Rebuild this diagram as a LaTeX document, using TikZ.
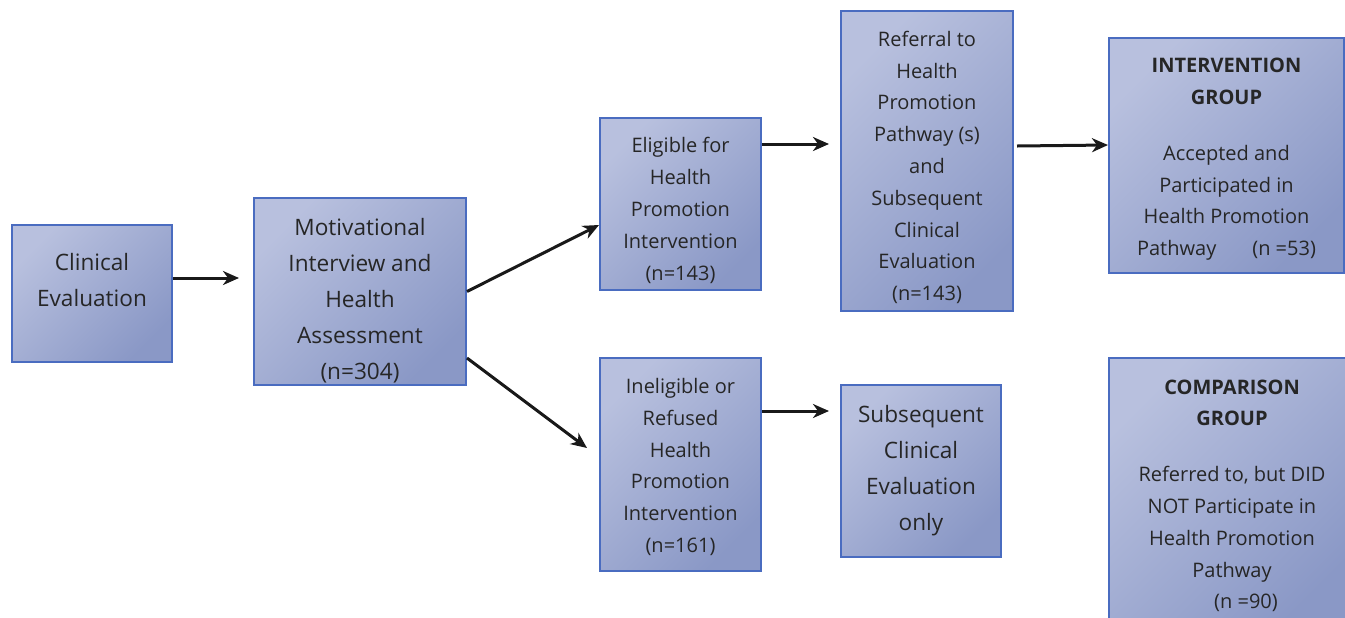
\documentclass[tikz,border=0pt]{standalone}
\usepackage{fontspec}
\setmainfont{Open Sans}
\usetikzlibrary{arrows.meta}
\definecolor{boxlight}{HTML}{B8C0DE}
\definecolor{boxdark}{HTML}{8A98C6}
\definecolor{boxline}{HTML}{4A6CC0}
\definecolor{txtgray}{HTML}{262626}
\newcommand{\dn}[1]{\raisebox{#1}{\vphantom{(}}}
\newcommand{\up}[1]{\raisebox{-#1}{\vphantom{(}}}
\tikzset{
  box/.style={draw=boxline, line width=1pt, top color=boxlight, bottom color=boxdark, shading angle=45, align=center, text=txtgray, inner sep=0pt},
  small/.style={font=\fontsize{10pt}{15.9pt}\selectfont},
  big/.style={font=\fontsize{11.3pt}{18pt}\selectfont},
  arr/.style={-{Stealth[length=8pt,width=7pt,inset=2.5pt]}, line width=1.5pt, black!90}
}
\begin{document}
\begin{tikzpicture}[x=0.5pt, y=-0.5pt]
\useasboundingbox (0,0) rectangle (1345,617);
\node (clin) at (92,293.5) [box, big, minimum width=80pt, minimum height=68.5pt] {Clinical\\Evaluation\up{12pt}};
\node (motiv) at (360,291.5) [box, big, minimum width=106pt, minimum height=93.5pt] {\dn{10pt}Motivational\\Interview and\\Health\\Assessment\\(n=304)};
\node (elig) at (680.5,204) [box, small, minimum width=80.5pt, minimum height=86pt] {\dn{7pt}Eligible for\\Health\\Promotion\\Intervention\\(n=143)};
\node (inel) at (680.5,464.5) [box, small, minimum width=80.5pt, minimum height=106.5pt] {\dn{3pt}Ineligible or\\Refused\\Health\\Promotion\\Intervention\\(n=161)};
\node (ref) at (927,161) [box, small, minimum width=86pt, minimum height=150pt] {\dn{7pt}Referral to\\Health\\Promotion\\Pathway (s)\\and\\Subsequent\\Clinical\\Evaluation\\(n=143)};
\node (sub) at (921,471) [box, big, minimum width=80pt, minimum height=86pt] {Subsequent\\Clinical\\Evaluation\\only};
\node (int) at (1226.5,155.5) [box, small, minimum width=117.5pt, minimum height=117.5pt] {\dn{4pt}\textbf{INTERVENTION}\\\textbf{GROUP}\\[12pt]Accepted and\\Participated in\\Health Promotion\\Pathway\hspace{18pt}(n =53)};
\node (comp) at (1232,493) [box, small, minimum width=123pt, minimum height=135pt] {\dn{3pt}\textbf{COMPARISON}\\\textbf{GROUP}\\[12pt]Referred to, but DID\\NOT Participate in\\Health Promotion\\Pathway\\\hspace*{14pt}(n =90)};

\coordinate (a1) at ([xshift=-7pt]motiv.west |- 0,278);
\coordinate (a2) at ([yshift=-10.5pt]elig.west);
\coordinate (a3) at ([xshift=-6pt,yshift=8.25pt]inel.west);
\coordinate (a4) at ([xshift=-5.5pt,yshift=30pt]ref.west |- elig);
\coordinate (a5) at ([yshift=5.25pt]int.west);
\coordinate (a6) at ([xshift=-5.5pt]sub.west |- 0,411);

\draw [arr] (clin.east |- a1) -- (a1);
\draw [arr] (motiv.east) -- (a2);
\draw [arr] ([yshift=-33.25pt]motiv.east) -- (a3);
\draw [arr] (elig.east |- a4) -- (a4);
\draw [arr] ([xshift=1.5pt,yshift=7.5pt]ref.east) -- (a5);
\draw [arr] (inel.east |- a6) -- (a6);

\end{tikzpicture}
\end{document}
